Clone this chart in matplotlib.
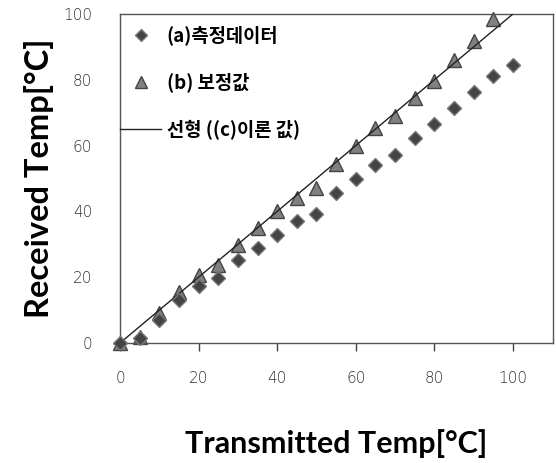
import matplotlib
matplotlib.use("Agg")
import matplotlib.pyplot as plt
from matplotlib.lines import Line2D

plt.rcParams['font.family'] = ['Noto Sans CJK KR', 'DejaVu Sans']

meas_x = [0, 5, 10, 15, 20, 25, 30, 35, 40, 45, 50, 55, 60, 65, 70, 75, 80, 85, 90, 95, 100]
meas_y = [0, 1.5, 7.0, 13.1, 17.4, 19.7, 25.1, 28.9, 32.9, 37.0, 39.3, 45.6, 50.0, 54.1, 57.2, 62.4, 66.5, 71.5, 76.3, 81.2, 84.5]
corr_x = [0, 5, 10, 15, 20, 25, 30, 35, 40, 45, 50, 55, 60, 65, 70, 75, 80, 85, 90, 95]
corr_y = [0, 1.9, 9.0, 15.6, 20.7, 23.6, 29.9, 35.0, 40.0, 44.1, 47.2, 54.3, 59.8, 65.4, 69.0, 74.6, 79.7, 86.0, 91.9, 98.5]
theory_x = [0, 100]
theory_y = [0, 100]

labels = ['(a)측정데이터', '(b) 보정값', '선형 ((c)이론 값)']
xticks = [0, 20, 40, 60, 80, 100]
yticks = [0, 20, 40, 60, 80, 100]

fig = plt.figure(figsize=(5.56, 4.63), dpi=100)
ax = fig.add_axes([120/556, 1 - 343/463, (553-120)/556, (343-14)/463])

ax.plot(theory_x, theory_y, color='#222222', lw=1.0, zorder=3)
ax.plot(corr_x, corr_y, linestyle='none', marker='^', markersize=9.5,
        markerfacecolor='#808080', markeredgecolor='#444444', markeredgewidth=1.0,
        clip_on=False, zorder=2)
ax.plot(meas_x, meas_y, linestyle='none', marker='D', markersize=7.5,
        markerfacecolor='#444444', markeredgecolor='#777777', markeredgewidth=1.0,
        clip_on=False, zorder=4)

ax.set_xlim(0, 110.2)
ax.set_ylim(0, 100)
ax.set_xticks(xticks)
ax.set_yticks(yticks)
ax.tick_params(axis='x', direction='out', length=6, width=1, color='#444444', pad=14,
               labelsize=11, labelcolor='#333333')
ax.tick_params(axis='y', length=0, pad=20, labelsize=11, labelcolor='#333333')
for lab in ax.get_xticklabels() + ax.get_yticklabels():
    lab.set_family(['DejaVu Sans'])
    lab.set_fontweight('light')
for s in ax.spines.values():
    s.set_color('#555555')
    s.set_linewidth(1.0)

ax.set_xlabel('Transmitted Temp[°C]', fontsize=22, fontweight='bold', family=['Lato', 'DejaVu Sans'],
              labelpad=31)
ax.set_ylabel('Received Temp[°C]', fontsize=23.5, fontweight='bold', family=['Lato', 'DejaVu Sans'],
              labelpad=7)

handles = [
    Line2D([], [], linestyle='none', marker='D', markersize=6.5, markerfacecolor='#444444', markeredgecolor='#777777'),
    Line2D([], [], linestyle='none', marker='^', markersize=8.5, markerfacecolor='#808080', markeredgecolor='#444444'),
    Line2D([], [], color='#222222', lw=1.0),
]
leg = ax.legend(handles, labels, loc='upper left', bbox_to_anchor=(0.0, 0.965), frameon=False,
                borderaxespad=0, borderpad=0, handlelength=2.2, handletextpad=0.3,
                labelspacing=1.45, prop={'family': ['Noto Sans CJK KR', 'DejaVu Sans'],
                                         'weight': 'bold', 'size': 13.5})

fig.savefig('out.png', dpi=100)
